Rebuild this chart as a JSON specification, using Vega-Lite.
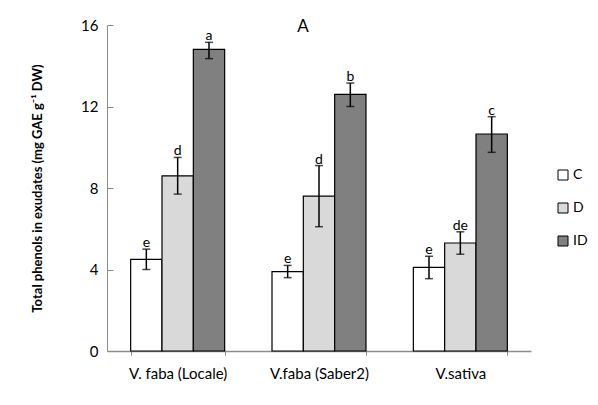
{
  "$schema": "https://vega.github.io/schema/vega-lite/v6.json",
  "width": 424,
  "height": 326,
  "autosize": {"type": "none"},
  "padding": {"left": 107, "top": 25, "right": 67, "bottom": 54},
  "background": "white",
  "config": {
    "font": "Lato",
    "view": {"stroke": null},
    "axis": {"domainColor": "#8c8c8c", "tickColor": "#8c8c8c", "labelColor": "black", "titleColor": "black", "labelFont": "Lato", "titleFont": "Lato", "grid": false}
  },
  "title": {"text": "A", "fontSize": 17, "fontWeight": "normal", "anchor": "middle", "dx": -16, "offset": -18, "font": "Lato", "color": "black"},
  "data": {
    "values": [
      {"group": "V. faba (Locale)", "treat": "C", "mean": 4.5, "lo": 4.0, "hi": 5.0, "letter": "e"},
      {"group": "V. faba (Locale)", "treat": "D", "mean": 8.6, "lo": 7.7, "hi": 9.5, "letter": "d"},
      {"group": "V. faba (Locale)", "treat": "ID", "mean": 14.8, "lo": 14.35, "hi": 15.15, "letter": "a"},
      {"group": "V.faba (Saber2)", "treat": "C", "mean": 3.9, "lo": 3.6, "hi": 4.2, "letter": "e"},
      {"group": "V.faba (Saber2)", "treat": "D", "mean": 7.6, "lo": 6.1, "hi": 9.1, "letter": "d"},
      {"group": "V.faba (Saber2)", "treat": "ID", "mean": 12.6, "lo": 12.0, "hi": 13.15, "letter": "b"},
      {"group": "V.sativa", "treat": "C", "mean": 4.1, "lo": 3.55, "hi": 4.65, "letter": "e"},
      {"group": "V.sativa", "treat": "D", "mean": 5.3, "lo": 4.75, "hi": 5.85, "letter": "de"},
      {"group": "V.sativa", "treat": "ID", "mean": 10.65, "lo": 9.75, "hi": 11.5, "letter": "c"}
    ]
  },
  "encoding": {
    "x": {
      "field": "group", "type": "nominal",
      "sort": ["V. faba (Locale)", "V.faba (Saber2)", "V.sativa"],
      "scale": {"paddingInner": 0.335, "paddingOuter": 0.1675},
      "axis": {"title": null, "labelAngle": 0, "labelFontSize": 15, "tickBand": "extent", "tickSize": 4, "labelPadding": 11, "domainWidth": 1.5}
    },
    "xOffset": {"field": "treat", "type": "nominal", "sort": ["C", "D", "ID"], "scale": {"paddingInner": 0, "paddingOuter": 0}}
  },
  "layer": [
    {
      "mark": {"type": "bar", "stroke": "black", "strokeWidth": 1.2},
      "encoding": {
        "y": {
          "field": "mean", "type": "quantitative",
          "scale": {"domain": [0, 16]},
          "axis": {"title": "Total phenols in exudates (mg GAE g⁻¹ DW)", "titleFontWeight": "bold", "titleFontSize": 13, "titlePadding": 36, "values": [0, 4, 8, 12, 16], "tickSize": -6, "labelPadding": 15, "labelFontSize": 15, "domainWidth": 1}
        },
        "fill": {
          "field": "treat", "type": "nominal",
          "scale": {"domain": ["C", "D", "ID"], "range": ["#ffffff", "#d9d9d9", "#808080"]},
          "legend": {"title": null, "orient": "none", "legendX": 449, "legendY": 143, "symbolType": "square", "symbolSize": 100, "symbolStrokeColor": "black", "symbolStrokeWidth": 1, "symbolOpacity": 1, "labelFontSize": 14, "labelFont": "Lato", "labelColor": "black", "rowPadding": 19, "labelOffset": 3, "padding": 0}
        }
      }
    },
    {
      "mark": {"type": "rule", "color": "black", "strokeWidth": 1.5},
      "encoding": {"y": {"field": "lo", "type": "quantitative"}, "y2": {"field": "hi"}}
    },
    {
      "mark": {"type": "tick", "color": "black", "thickness": 1.5, "size": 8, "orient": "horizontal"},
      "encoding": {"y": {"field": "lo", "type": "quantitative"}}
    },
    {
      "mark": {"type": "tick", "color": "black", "thickness": 1.5, "size": 8, "orient": "horizontal"},
      "encoding": {"y": {"field": "hi", "type": "quantitative"}}
    },
    {
      "mark": {"type": "text", "baseline": "alphabetic", "dy": -2, "fontSize": 14, "color": "black"},
      "encoding": {"y": {"field": "hi", "type": "quantitative"}, "text": {"field": "letter"}}
    }
  ]
}
